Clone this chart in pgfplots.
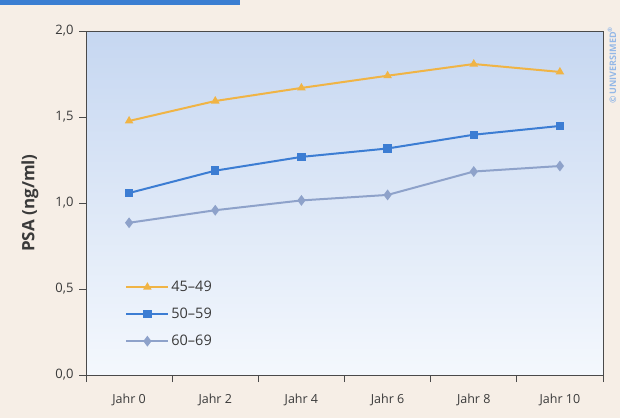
\documentclass[border=0pt]{standalone}
\usepackage{pgfplots}
\pgfplotsset{compat=1.18}
\usepackage{fontspec}
\setmainfont{Open Sans}
\setsansfont{Open Sans}
\definecolor{bgcream}{HTML}{F6EEE6}
\definecolor{plottop}{HTML}{C6D7F1}
\definecolor{plotbot}{HTML}{F4F8FD}
\definecolor{cOrange}{HTML}{F0B445}
\definecolor{cBlue}{HTML}{3C7DD3}
\definecolor{cGrey}{HTML}{8EA2CA}
\definecolor{hdrblue}{HTML}{3A7ED2}
\definecolor{txt}{HTML}{3A3A3A}
\definecolor{axl}{HTML}{4A4A4A}
\begin{document}
\begin{tikzpicture}[x=1pt,y=1pt]
\path[use as bounding box, fill=bgcream] (0,0) rectangle (620,418);
\fill[hdrblue] (0,413) rectangle (240,418);
\node[rotate=90, text=cBlue!55, font=\sffamily\bfseries\fontsize{9}{10}\selectfont, anchor=center] at (612,353) {\textcopyright\,UNIVERSIMED\textsuperscript{\textregistered}};
\begin{axis}[
  at={(86pt,43pt)}, anchor=south west,
  scale only axis, width=517pt, height=344pt,
  xmin=-0.5, xmax=5.5, ymin=0, ymax=2,
  axis background/.style={top color=plottop, bottom color=plotbot},
  axis line style={draw=axl, line width=0.9pt},
  xtick={0,1,2,3,4,5},
  xticklabels={Jahr 0,Jahr 2,Jahr 4,Jahr 6,Jahr 8,Jahr 10},
  major x tick style={draw=none},
  minor xtick={-0.5,0.5,1.5,2.5,3.5,4.5,5.5},
  minor x tick style={draw=axl, line width=0.9pt},
  minor tick length=7pt,
  ytick={0,0.5,1,1.5,2},
  y tick style={draw=axl, line width=0.9pt},
  major tick length=7pt,
  tick align=outside,
  xtick pos=bottom, ytick pos=left,
  /pgf/number format/use comma,
  /pgf/number format/fixed,
  /pgf/number format/fixed zerofill,
  /pgf/number format/precision=1,
  /pgf/number format/assume math mode=true,
  ticklabel style={text=txt, font=\fontsize{13}{15}\selectfont},
  x tick label style={yshift=-8pt, font=\fontsize{12.5}{14}\selectfont},
  y tick label style={xshift=-2pt},
  ylabel={PSA (ng/ml)},
  ylabel style={at={(axis description cs:-0.085,0.5)}, font=\bfseries\fontsize{17}{19}\selectfont, text=txt},
  legend style={draw=none, fill=none, at={(0.07,0.285)}, anchor=north west, font=\fontsize{14.5}{16}\selectfont, text=txt, row sep=11pt},
  legend cell align=left,
  legend image code/.code={\draw[#1, mark repeat=2, mark phase=2] plot coordinates {(0pt,0pt) (21pt,0pt) (42pt,0pt)};},
]
\addplot[cOrange, line width=2pt, mark=triangle*, mark size=3pt] coordinates {(0,1.477) (1,1.593) (2,1.669) (3,1.740) (4,1.808) (5,1.762)};
\addlegendentry{45--49}
\addplot[cBlue, line width=2pt, mark=square*, mark size=3.2pt] coordinates {(0,1.058) (1,1.188) (2,1.268) (3,1.317) (4,1.397) (5,1.448)};
\addlegendentry{50--59}
\addplot[cGrey, line width=2pt, mark=diamond*, mark size=3.8pt] coordinates {(0,0.885) (1,0.958) (2,1.015) (3,1.047) (4,1.183) (5,1.215)};
\addlegendentry{60--69}
\end{axis}
\end{tikzpicture}
\end{document}
